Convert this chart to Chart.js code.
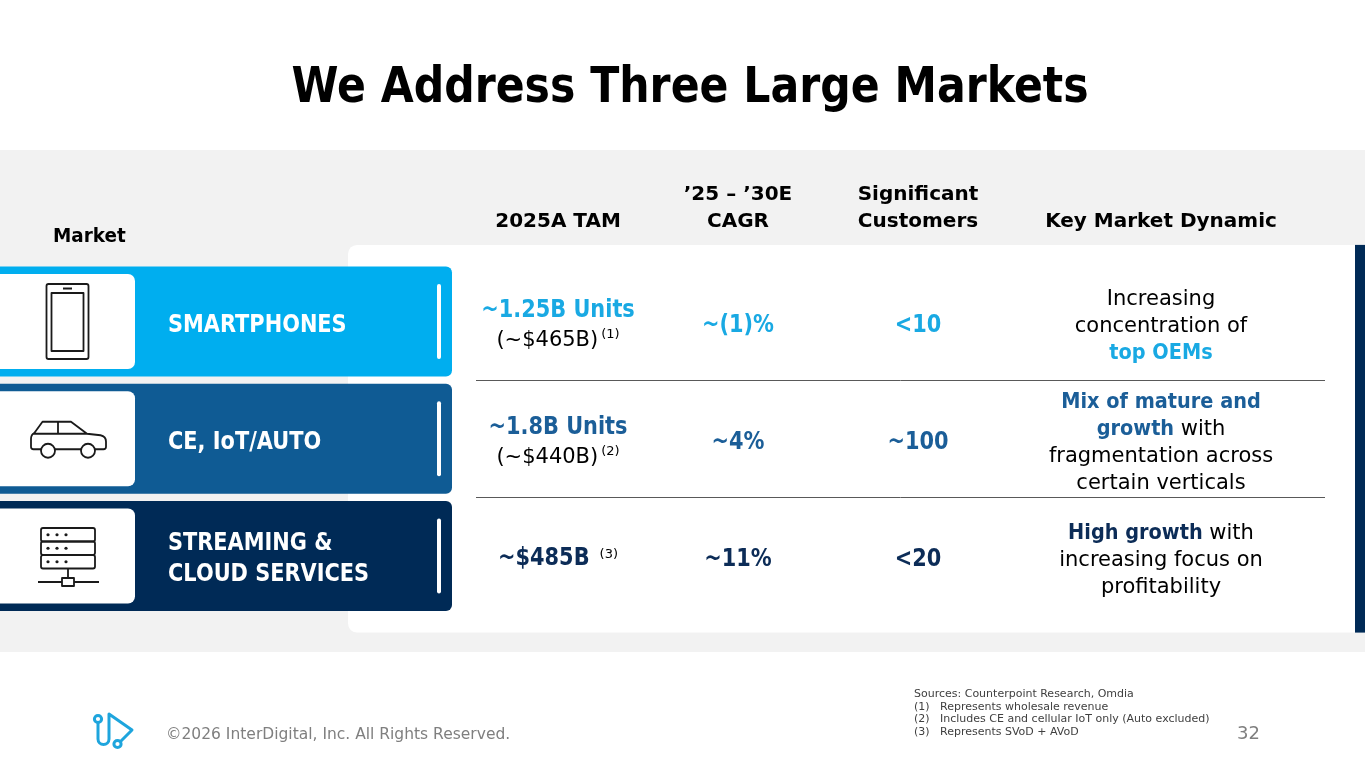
<!DOCTYPE html>
<html>
<head>
<meta charset="utf-8">
<title>We Address Three Large Markets</title>
<script src="https://cdn.jsdelivr.net/npm/chart.js@4.4.1/dist/chart.umd.min.js"></script>
<style>
  html, body { margin: 0; padding: 0; background: #fff; }
  #wrap { position: relative; width: 1365px; height: 768px; overflow: hidden; }
</style>
</head>
<body>
<div id="wrap"><canvas id="slide" width="1365" height="768"></canvas></div>
<script>
// ---------------- data ----------------
const title = 'We Address Three Large Markets';
const marketHeader = 'Market';
const markets = ['SMARTPHONES', 'CE, IoT/AUTO', 'STREAMING & CLOUD SERVICES'];
const marketLines = [['SMARTPHONES'], ['CE, IoT/AUTO'], ['STREAMING &', 'CLOUD SERVICES']];
const headers = ['2025A TAM', ['’25 – ’30E', 'CAGR'], ['Significant', 'Customers'], 'Key Market Dynamic'];
const tamUnits = ['~1.25B Units', '~1.8B Units', '~$485B'];
const tamRevenue = ['(~$465B)', '(~$440B)', ''];
const tamNotes = ['(1)', '(2)', '(3)'];
const cagr = ['~(1)%', '~4%', '~11%'];
const customers = ['<10', '~100', '<20'];
// each line is a list of [text, bold] pieces
const dynamics = [
  [[['Increasing', 0]], [['concentration of', 0]], [['top OEMs', 1]]],
  [[['Mix of mature and', 1]], [['growth', 1], [' with', 0]], [['fragmentation across', 0]], [['certain verticals', 0]]],
  [[['High growth', 1], [' with', 0]], [['increasing focus on', 0]], [['profitability', 0]]]
];
const sources = 'Sources: Counterpoint Research, Omdia';
const footnotes = [
  ['(1)', 'Represents wholesale revenue'],
  ['(2)', 'Includes CE and cellular IoT only (Auto excluded)'],
  ['(3)', 'Represents SVoD + AVoD']
];
const copyright = '©2026 InterDigital, Inc. All Rights Reserved.';
const pageNo = '32';

// ---------------- layout / styles ----------------
const W = 1365, H = 768;
const colAt = [558, 738, 918, 1161];      // column centres on the x scale
const bandEnd = 452, iconEnd = 135, dividerAt = 439;
const bandColors = ['#00aeef', '#0f5b94', '#002a56'];
const textColors = ['#19a9e3', '#1b5e98', '#0c2c57'];
const icons = ['phone', 'car', 'server'];
const FONT = '"DejaVu Sans", "Noto Sans", sans-serif';
const SQ = 0.87;        // DejaVu bold is wider than the slide face
const SQ_DYN = 0.92;

function piece(ctx, text, x, y, font, color, sx) {
    ctx.save();
    ctx.font = font;
    ctx.fillStyle = color;
    ctx.textAlign = 'left';
    ctx.textBaseline = 'alphabetic';
    ctx.translate(x, y);
    ctx.scale(sx, 1);
    ctx.fillText(text, 0, 0);
    ctx.restore();
}

function pieceWidth(ctx, text, font, sx) {
    ctx.save();
    ctx.font = font;
    let w = ctx.measureText(text).width * sx;
    ctx.restore();
    return w;
}

// centred line made of several pieces
function line(ctx, parts, cx, y) {
    let total = 0;
    for (let p of parts) total += pieceWidth(ctx, p.t, p.f, p.s) + (p.gap || 0);
    let x = cx - total / 2;
    for (let p of parts) {
        x += p.gap || 0;
        piece(ctx, p.t, x, y + (p.dy || 0), p.f, p.c, p.s);
        x += pieceWidth(ctx, p.t, p.f, p.s);
    }
}

function drawIcon(ctx, kind, cx, cy) {
    ctx.save();
    ctx.strokeStyle = '#1a1a1a';
    ctx.fillStyle = '#1a1a1a';
    ctx.lineWidth = 1.8;
    ctx.lineJoin = 'round';
    ctx.translate(cx, cy);
    if (kind == 'phone') {
        ctx.beginPath();
        ctx.roundRect(-21, -37.5, 42, 75, 2);
        ctx.stroke();
        ctx.beginPath();
        ctx.rect(-16, -28.5, 32, 58);
        ctx.stroke();
        ctx.beginPath();
        ctx.moveTo(-4.5, -33); ctx.lineTo(4.5, -33);
        ctx.lineWidth = 2;
        ctx.stroke();
    }
    else if (kind == 'car') {
        ctx.beginPath();
        ctx.moveTo(-26.5, 10.5);
        ctx.lineTo(-34, 10.5);
        ctx.quadraticCurveTo(-36.5, 10.5, -36.5, 8);
        ctx.lineTo(-36.5, 0);
        ctx.quadraticCurveTo(-36.5, -4, -33, -6);
        ctx.lineTo(-25, -17);
        ctx.lineTo(3.5, -17);
        ctx.lineTo(19.5, -5);
        ctx.lineTo(33, -3.5);
        ctx.quadraticCurveTo(38.5, -2.5, 38.5, 3);
        ctx.lineTo(38.5, 8);
        ctx.quadraticCurveTo(38.5, 10.5, 36, 10.5);
        ctx.lineTo(27.5, 10.5);
        ctx.moveTo(13.5, 10.5); ctx.lineTo(-12.5, 10.5);
        ctx.moveTo(-34.5, -5); ctx.lineTo(19.5, -5);
        ctx.moveTo(-9.5, -17); ctx.lineTo(-9.5, -5);
        ctx.stroke();
        for (let wx of [-19.5, 20.5]) {
            ctx.beginPath();
            ctx.arc(wx, 12, 7, 0, Math.PI * 2);
            ctx.stroke();
        }
    }
    else {
        for (let top of [-28, -14.5, -1]) {
            ctx.beginPath();
            ctx.roundRect(-26.5, top, 54, 13.5, 2);
            ctx.stroke();
            for (let dx of [-19.5, -10.5, -1.5]) {
                ctx.beginPath();
                ctx.arc(dx, top + 6.75, 1.6, 0, Math.PI * 2);
                ctx.fill();
            }
        }
        ctx.beginPath();
        ctx.moveTo(0.5, 12.5); ctx.lineTo(0.5, 22);
        ctx.moveTo(-29.5, 26); ctx.lineTo(-5.5, 26);
        ctx.moveTo(6.5, 26); ctx.lineTo(31.5, 26);
        ctx.rect(-5.5, 22, 12, 8);
        ctx.stroke();
    }
    ctx.restore();
}

function drawLogo(ctx) {
    ctx.save();
    ctx.strokeStyle = '#1ea5dd';
    ctx.lineWidth = 3;
    ctx.lineCap = 'round';
    ctx.lineJoin = 'round';
    ctx.beginPath();
    ctx.arc(98, 719, 3.6, 0, Math.PI * 2);
    ctx.stroke();
    ctx.beginPath();
    ctx.moveTo(98, 723);
    ctx.lineTo(98, 739);
    ctx.arc(103.5, 739, 5.5, Math.PI, 0, true);
    ctx.lineTo(109, 714);
    ctx.lineTo(132, 730);
    ctx.lineTo(121, 741);
    ctx.stroke();
    ctx.beginPath();
    ctx.arc(117.5, 744, 3.6, 0, Math.PI * 2);
    ctx.stroke();
    ctx.restore();
}

const slidePlugin = {
    id: 'slide',
    beforeDraw(chart) {
        const ctx = chart.ctx;
        const area = chart.chartArea;
        ctx.save();
        ctx.fillStyle = '#ffffff';
        ctx.fillRect(0, 0, W, H);
        ctx.fillStyle = '#f2f2f2';
        ctx.fillRect(0, 150, W, 502);
        // white panel behind the value columns
        ctx.fillStyle = '#ffffff';
        ctx.beginPath();
        ctx.roundRect(348, area.top - 18, W - 348, area.bottom - area.top + 36, [9, 0, 0, 9]);
        ctx.fill();
        ctx.fillStyle = '#002a56';
        ctx.fillRect(1355, area.top - 18, 10, area.bottom - area.top + 36);
        ctx.restore();
    },
    afterDatasetsDraw(chart) {
        const ctx = chart.ctx;
        const x = chart.scales.x;
        const y = chart.scales.y;
        const iconMeta = chart.getDatasetMeta(0);
        const bold = s => 'bold ' + s + 'px ' + FONT;
        const reg = s => s + 'px ' + FONT;

        // row separators on the category boundaries
        ctx.save();
        ctx.strokeStyle = '#595959';
        ctx.lineWidth = 1;
        for (let i = 0; i < markets.length - 1; i++) {
            let py = Math.round(y.getPixelForValue(i + 0.5)) + 0.5;
            ctx.beginPath();
            ctx.moveTo(476, py);
            ctx.lineTo(1325, py);
            ctx.stroke();
        }
        ctx.restore();

        // "Market" header
        piece(ctx, marketHeader, 53, 242, bold(20), '#000', SQ + 0.05);

        for (let i = 0; i < markets.length; i++) {
            const cy = y.getPixelForValue(i);
            const col = textColors[i];
            const el = iconMeta.data[i];
            drawIcon(ctx, icons[i], (el.base + el.x) / 2, cy);

            // market label inside the band
            const ml = marketLines[i];
            ml.forEach((t, k) => {
                piece(ctx, t, 168, cy + 10 + (k - (ml.length - 1) / 2) * 31, bold(24), '#fff', SQ);
            });

            // 2025A TAM
            const tx = x.getPixelForValue(colAt[0]);
            if (tamRevenue[i]) {
                line(ctx, [{ t: tamUnits[i], f: bold(24), c: col, s: SQ }], tx, cy + 10 - 14.5);
                line(ctx, [
                    { t: tamRevenue[i], f: reg(21), c: '#000', s: 1 },
                    { t: tamNotes[i], f: reg(13), c: '#000', s: 1, gap: 3, dy: -8 }
                ], tx, cy + 10 + 14.5);
            }
            else {
                line(ctx, [
                    { t: tamUnits[i], f: bold(24), c: col, s: SQ },
                    { t: tamNotes[i], f: reg(13), c: '#000', s: 1, gap: 10, dy: -7 }
                ], tx, cy + 9);
            }

            // CAGR and customers
            line(ctx, [{ t: cagr[i], f: bold(24), c: col, s: SQ }], x.getPixelForValue(colAt[1]), cy + 10);
            line(ctx, [{ t: customers[i], f: bold(24), c: col, s: SQ }], x.getPixelForValue(colAt[2]), cy + 10);

            // key market dynamic
            const dl = dynamics[i];
            dl.forEach((parts, k) => {
                line(ctx, parts.map(p => ({
                    t: p[0],
                    f: p[1] ? bold(21) : reg(21),
                    c: p[1] ? col : '#000',
                    s: p[1] ? SQ_DYN : 1
                })), x.getPixelForValue(colAt[3]), cy + 10 + (k - (dl.length - 1) / 2) * 27);
            });
        }
    },
    afterDraw(chart) {
        const ctx = chart.ctx;
        line(ctx, [{ t: title, f: 'bold 49px ' + FONT, c: '#000', s: SQ }], 690, 102);

        piece(ctx, sources, 914, 697, '11px ' + FONT, '#404040', 1);
        footnotes.forEach((n, k) => {
            piece(ctx, n[0], 914, 710 + k * 12.3, '11px ' + FONT, '#404040', 1);
            piece(ctx, n[1], 940, 710 + k * 12.3, '11px ' + FONT, '#404040', 1);
        });

        piece(ctx, copyright, 166, 739, '15.5px ' + FONT, '#7f7f7f', 1);
        ctx.save();
        ctx.font = '18px ' + FONT;
        ctx.fillStyle = '#7f7f7f';
        ctx.textAlign = 'right';
        ctx.fillText(pageNo, 1260, 739);
        ctx.restore();
        drawLogo(ctx);
    }
};

const ctx = document.getElementById('slide');

const config = {
    type: 'bar',
    data: {
        labels: markets,
        datasets: [
            {
                label: 'icon box',
                data: markets.map(() => [0, iconEnd]),
                backgroundColor: '#ffffff',
                barPercentage: 0.81,
                categoryPercentage: 1,
                grouped: false,
                order: 0,
                borderSkipped: false,
                borderRadius: { topLeft: 0, bottomLeft: 0, topRight: 7, bottomRight: 7 }
            },
            {
                label: 'divider',
                data: markets.map(() => [dividerAt - 2, dividerAt + 2]),
                backgroundColor: '#ffffff',
                barPercentage: 0.64,
                categoryPercentage: 1,
                grouped: false,
                order: 1,
                borderSkipped: false,
                borderRadius: 2
            },
            {
                label: 'market',
                data: markets.map(() => [0, bandEnd]),
                backgroundColor: bandColors,
                barPercentage: 0.94,
                categoryPercentage: 1,
                grouped: false,
                order: 2,
                borderSkipped: false,
                borderRadius: { topLeft: 0, bottomLeft: 0, topRight: 6, bottomRight: 6 }
            }
        ]
    },
    options: {
        responsive: false,
        animation: false,
        indexAxis: 'y',
        events: [],
        layout: { padding: { top: 0, bottom: 153.4, left: 0, right: 0 } },
        plugins: {
            legend: { display: false },
            tooltip: { enabled: false },
            title: { display: false }
        },
        scales: {
            x: {
                type: 'linear',
                position: 'top',
                min: 0,
                max: W,
                grid: { display: false, drawTicks: false },
                border: { display: false },
                afterBuildTicks: (scale) => {
                    scale.ticks = colAt.map(v => ({ value: v }));
                },
                afterFit: (scale) => {
                    scale.height = 262.9;
                },
                ticks: {
                    autoSkip: false,
                    maxRotation: 0,
                    padding: 28,
                    color: '#000',
                    font: { family: FONT, weight: 'bold', size: 20, lineHeight: 1.35 },
                    callback: (value, index) => headers[index]
                }
            },
            y: {
                type: 'category',
                display: false,
                offset: true
            }
        }
    },
    plugins: [slidePlugin]
};

const slideChart = new Chart(ctx, config);
</script>
</body>
</html>
